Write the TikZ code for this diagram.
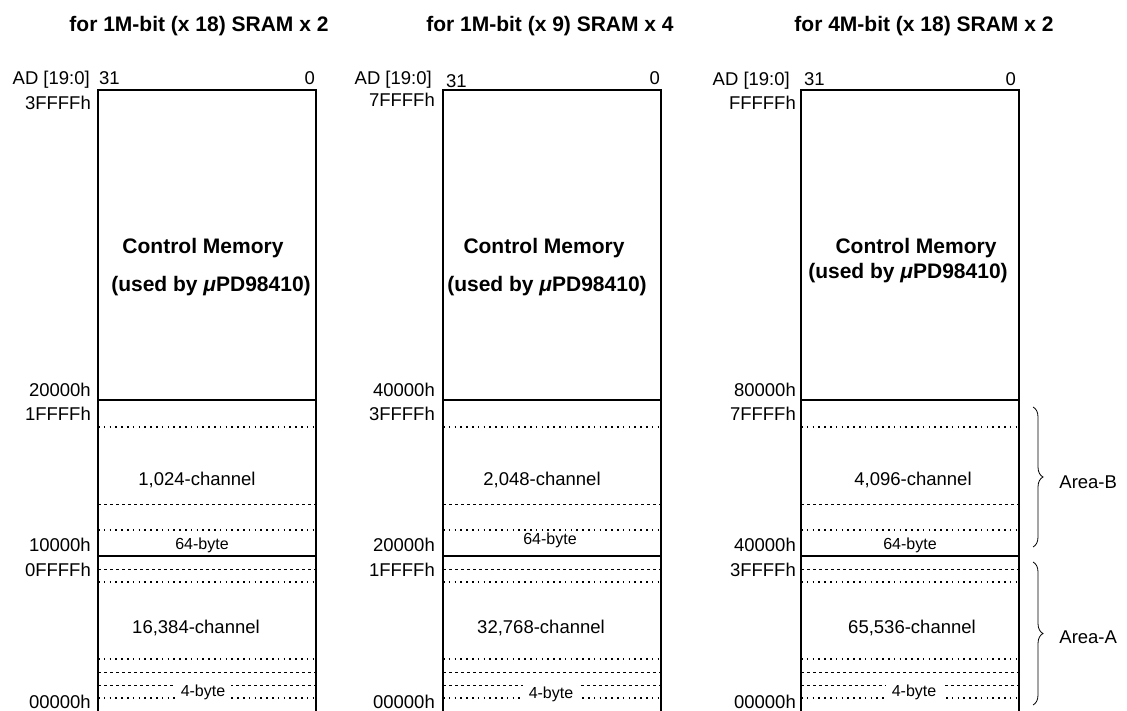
\documentclass[tikz,border=0pt]{standalone}
\usepackage{fontspec}
\setmainfont{Liberation Sans}
\usetikzlibrary{decorations.pathreplacing}
\tikzset{
  title/.style={font=\bfseries\fontsize{21}{25}\selectfont, anchor=base, inner sep=0pt},
  cmtext/.style={font=\bfseries\fontsize{21}{25}\selectfont, anchor=base, inner sep=0pt},
  addr/.style={font=\fontsize{18.5}{22}\selectfont, anchor=east, inner sep=0pt},
  bitno/.style={font=\fontsize{18.5}{22}\selectfont, inner sep=0pt},
  chan/.style={font=\fontsize{18.5}{22}\selectfont, inner sep=0pt},
  bytelbl/.style={font=\fontsize{16}{19}\selectfont, inner sep=0pt},
  gaplbl/.style={font=\fontsize{16}{19}\selectfont, fill=white, inner xsep=6pt, inner ysep=3pt},
  membox/.style={line width=1.3pt},
  boundary/.style={line width=1.7pt},
  dotheavy/.style={line width=1.4pt, dash pattern=on 1.6pt off 4.2pt},
  dotlight/.style={line width=0.7pt, dash pattern=on 2.5pt off 3.5pt},
  areabrace/.style={decorate, decoration={brace, amplitude=10pt}, line width=0.8pt},
  arealbl/.style={font=\fontsize{18.5}{22}\selectfont, anchor=west, inner sep=0pt},
}

\begin{document}
\begin{tikzpicture}[x=1pt, y=-1pt]
\useasboundingbox (0,0) rectangle (1127,711);

% ---------- 1M-bit (x 18) SRAM x 2 ----------
\node[title] (title1) at (199,32) {for 1M-bit (x 18) SRAM x 2};
\node[bitno, anchor=base east] (ad1) at (90,85) {AD [19:0]};
\node[bitno, anchor=base west] (msb1) at (99,85) {31};
\node[bitno, anchor=base east] (lsb1) at (315,85) {0};
\draw[membox] (98,715) -- (98,90) -- (316,90) -- (316,715);
\draw[boundary] (98,400) -- (316,400);
\draw[boundary] (98,556) -- (316,556);
\draw[dotheavy] (98,427) -- (316,427);
\draw[dotlight] (98,504) -- (316,504);
\draw[dotheavy] (98,530) -- (316,530);
\draw[dotlight] (98,569) -- (316,569);
\draw[dotheavy] (98,582) -- (316,582);
\draw[dotheavy] (98,659) -- (316,659);
\draw[dotlight] (98,672) -- (316,672);
\draw[dotlight] (98,685) -- (316,685);
\draw[dotheavy] (98,698) -- (316,698);
\node[addr] (top1) at (91,103) {3FFFFh};
\node[addr] (cmlo1) at (91,390) {20000h};
\node[addr] (bhi1) at (91,414) {1FFFFh};
\node[addr] (blo1) at (91,545) {10000h};
\node[addr] (ahi1) at (91,570) {0FFFFh};
\node[addr] (alo1) at (91,702) {00000h};
\node[cmtext] (cm1) at (203,254) {Control Memory};
\node[cmtext] (used1) at (211,292) {(used by {\itshape μ}PD98410)};
\node[chan] (chb1) at (197,480) {1,024-channel};
\node[bytelbl] (byb1) at (202,545) {64-byte};
\node[chan] (cha1) at (196,628) {16,384-channel};
\node[gaplbl] (bya1) at (203,692) {4-byte};

% ---------- 1M-bit (x 9) SRAM x 4 ----------
\node[title] (title2) at (550,32) {for 1M-bit (x 9) SRAM x 4};
\node[bitno, anchor=base east] (ad2) at (432,85) {AD [19:0]};
\node[bitno, anchor=base west] (msb2) at (446,88) {31};
\node[bitno, anchor=base east] (lsb2) at (660,85) {0};
\draw[membox] (443,715) -- (443,90) -- (661,90) -- (661,715);
\draw[boundary] (443,400) -- (661,400);
\draw[boundary] (443,556) -- (661,556);
\draw[dotheavy] (443,427) -- (661,427);
\draw[dotlight] (443,504) -- (661,504);
\draw[dotheavy] (443,530) -- (661,530);
\draw[dotlight] (443,569) -- (661,569);
\draw[dotheavy] (443,582) -- (661,582);
\draw[dotheavy] (443,659) -- (661,659);
\draw[dotlight] (443,672) -- (661,672);
\draw[dotlight] (443,685) -- (661,685);
\draw[dotheavy] (443,698) -- (661,698);
\node[addr] (top2) at (435,100) {7FFFFh};
\node[addr] (cmlo2) at (435,390) {40000h};
\node[addr] (bhi2) at (435,414) {3FFFFh};
\node[addr] (blo2) at (435,545) {20000h};
\node[addr] (ahi2) at (435,570) {1FFFFh};
\node[addr] (alo2) at (435,702) {00000h};
\node[cmtext] (cm2) at (544,254) {Control Memory};
\node[cmtext] (used2) at (547,292) {(used by {\itshape μ}PD98410)};
\node[chan] (chb2) at (542,480) {2,048-channel};
\node[bytelbl] (byb2) at (550,540) {64-byte};
\node[chan] (cha2) at (541,628) {32,768-channel};
\node[gaplbl] (bya2) at (551,694) {4-byte};

% ---------- 4M-bit (x 18) SRAM x 2 ----------
\node[title] (title3) at (924,32) {for 4M-bit (x 18) SRAM x 2};
\node[bitno, anchor=base east] (ad3) at (790,86) {AD [19:0]};
\node[bitno, anchor=base west] (msb3) at (804,86) {31};
\node[bitno, anchor=base east] (lsb3) at (1016,86) {0};
\draw[membox] (801,715) -- (801,90) -- (1019,90) -- (1019,715);
\draw[boundary] (801,400) -- (1019,400);
\draw[boundary] (801,556) -- (1019,556);
\draw[dotheavy] (801,427) -- (1019,427);
\draw[dotlight] (801,504) -- (1019,504);
\draw[dotheavy] (801,530) -- (1019,530);
\draw[dotlight] (801,569) -- (1019,569);
\draw[dotheavy] (801,582) -- (1019,582);
\draw[dotheavy] (801,659) -- (1019,659);
\draw[dotlight] (801,672) -- (1019,672);
\draw[dotlight] (801,685) -- (1019,685);
\draw[dotheavy] (801,698) -- (1019,698);
\node[addr] (top3) at (796,103) {FFFFFh};
\node[addr] (cmlo3) at (796,390) {80000h};
\node[addr] (bhi3) at (796,414) {7FFFFh};
\node[addr] (blo3) at (796,545) {40000h};
\node[addr] (ahi3) at (796,570) {3FFFFh};
\node[addr] (alo3) at (796,702) {00000h};
\node[cmtext] (cm3) at (916,254) {Control Memory};
\node[cmtext] (used3) at (908,279) {(used by {\itshape μ}PD98410)};
\node[chan] (chb3) at (913,480) {4,096-channel};
\node[bytelbl] (byb3) at (910,545) {64-byte};
\node[chan] (cha3) at (912,628) {65,536-channel};
\node[gaplbl] (bya3) at (914,692) {4-byte};

% ---------- Area braces ----------
\coordinate (areab-top) at (1033,407);
\coordinate (areab-bot) at (1033,547);
\coordinate (areaa-top) at (1033,562);
\coordinate (areaa-bot) at (1033,705);
\draw[areabrace] (areab-top) -- (areab-bot)
  node[midway, arealbl, xshift=26pt, yshift=-5pt] (areab) {Area-B};
\draw[areabrace] (areaa-top) -- (areaa-bot)
  node[midway, arealbl, xshift=26pt, yshift=-4pt] (areaa) {Area-A};

\end{tikzpicture}
\end{document}
